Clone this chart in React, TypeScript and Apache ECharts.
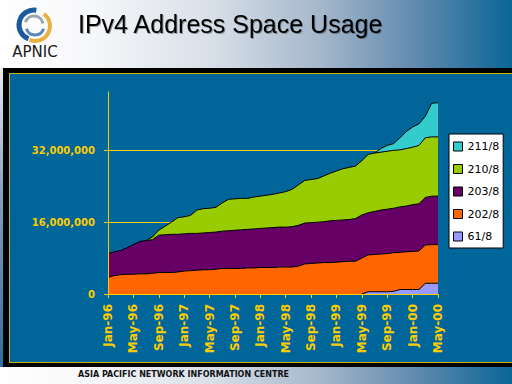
import React, { useEffect, useRef } from 'react';
import * as echarts from 'echarts';

const months = [
  'Jan-96','Feb-96','Mar-96','Apr-96','May-96','Jun-96','Jul-96','Aug-96','Sep-96','Oct-96','Nov-96','Dec-96',
  'Jan-97','Feb-97','Mar-97','Apr-97','May-97','Jun-97','Jul-97','Aug-97','Sep-97','Oct-97','Nov-97','Dec-97',
  'Jan-98','Feb-98','Mar-98','Apr-98','May-98','Jun-98','Jul-98','Aug-98','Sep-98','Oct-98','Nov-98','Dec-98',
  'Jan-99','Feb-99','Mar-99','Apr-99','May-99','Jun-99','Jul-99','Aug-99','Sep-99','Oct-99','Nov-99','Dec-99',
  'Jan-00','Feb-00','Mar-00','Apr-00','May-00'
];

// values in millions of addresses
const s61 = [
  null, null, null, null, null, null, null, null, null, null, null, null,
  null, null, null, null, null, null, null, null, null, null, null, null,
  null, null, null, null, null, null, null, null, null, null, null, null,
  null, null, null, null, 0, 0.5, 0.5, 0.5, 0.5, 0.6, 1.0, 1.0, 1.0, 1.0,
  2.4, 2.4, 2.4
];
const s202 = [
  3.7, 4.1, 4.3, 4.4, 4.4, 4.5, 4.5, 4.6, 4.8, 4.8, 4.8, 4.9,
  5.1, 5.2, 5.3, 5.4, 5.4, 5.5, 5.7, 5.7, 5.7, 5.7, 5.8, 5.8,
  5.9, 5.9, 5.9, 6.0, 6.0, 6.0, 6.2, 6.7, 6.8, 6.9, 7.0, 7.0,
  7.1, 7.2, 7.3, 7.3, 8.0, 8.2, 8.3, 8.4, 8.5, 8.6, 8.3, 8.4,
  8.5, 8.6, 8.5, 8.6, 8.6
];
const s203 = [
  5.3, 5.3, 5.4, 5.9, 6.6, 7.2, 7.4, 7.5, 8.3, 8.4, 8.5, 8.4,
  8.3, 8.3, 8.2, 8.2, 8.3, 8.3, 8.3, 8.4, 8.5, 8.6, 8.6, 8.7,
  8.7, 8.8, 8.9, 8.9, 8.9, 9.0, 9.1, 9.1, 9.1, 9.1, 9.1, 9.3,
  9.3, 9.3, 9.3, 9.5, 9.6, 9.4, 9.6, 9.8, 9.9, 9.9, 10.1, 10.2,
  10.4, 10.5, 10.6, 10.8, 10.8
];
const s210 = [
  null, null, null, null, null, null, 0, 0.6, 1.1, 1.9, 2.7, 3.7,
  3.8, 4.0, 5.2, 5.4, 5.4, 5.5, 6.3, 7.0, 7.0, 7.0, 6.9, 7.1,
  7.2, 7.3, 7.4, 7.6, 7.9, 8.3, 9.0, 9.5, 9.6, 9.7, 10.2, 10.6,
  11.0, 11.4, 11.6, 11.7, 12.1, 13.0, 13.0, 12.9, 12.9, 12.9, 12.7, 12.8,
  12.8, 13.0, 13.3, 13.2, 13.2
];
const s211 = [
  null, null, null, null, null, null, null, null, null, null, null, null,
  null, null, null, null, null, null, null, null, null, null, null, null,
  null, null, null, null, null, null, null, null, null, null, null, null,
  null, null, null, null, null, null, 0, 0.8, 1.3, 1.5, 2.7, 3.8,
  4.5, 4.8, 4.8, 7.5, 7.6
];

const seriesNames = ['61/8', '202/8', '203/8', '210/8', '211/8'];
const seriesColors = ['#9999ff', '#ff6600', '#660066', '#99cc00', '#33cccc'];
const seriesData = [s61, s202, s203, s210, s211];
const legendOrder = ['211/8', '210/8', '203/8', '202/8', '61/8'];

const yTickValues = [0, 16, 32];
const yTickLabels = ['0', '16,000,000', '32,000,000'];
const yMax = 45;

const YELLOW = '#ffcc00';

export default function App() {
  const ref = useRef<HTMLDivElement>(null);
  useEffect(() => {
    const chart = echarts.init(ref.current as HTMLDivElement, null, { renderer: 'svg' });
    const series = seriesNames.map((name, i) => ({
      name,
      type: 'line',
      stack: 'total',
      data: seriesData[i],
      symbol: 'none',
      showSymbol: false,
      itemStyle: { color: seriesColors[i] },
      lineStyle: { color: '#000', width: 1 },
      areaStyle: { color: seriesColors[i], opacity: 1 },
      emphasis: { disabled: true },
      silent: true,
      z: 2,
    }));
    chart.setOption({
      animation: false,
      backgroundColor: 'transparent',
      graphic: [
        {
          type: 'text', left: 78, top: 11, z: 100,
          style: {
            text: 'IPv4 Address Space Usage', fill: '#000',
            font: '25px "Liberation Sans", Arial, sans-serif',
            textShadowColor: 'rgba(0,0,0,0.35)', textShadowOffsetX: 1, textShadowOffsetY: 1, textShadowBlur: 1,
          },
        },
        {
          type: 'text', x: 35, y: 52, z: 100,
          style: {
            text: 'APNIC', fill: '#1a1a1a', align: 'center', verticalAlign: 'middle',
            font: '15px "DejaVu Sans", sans-serif',
          },
        },
        { type: 'arc', z: 100, shape: { cx: 34, cy: 25, r: 15, startAngle: Math.PI * 0.62, endAngle: Math.PI * 1.55, clockwise: true }, style: { stroke: '#1d5a9c', lineWidth: 5, fill: 'none' } },
        { type: 'arc', z: 100, shape: { cx: 35, cy: 26, r: 15, startAngle: -Math.PI * 0.3, endAngle: Math.PI * 0.62, clockwise: true }, style: { stroke: '#e8b040', lineWidth: 4, fill: 'none' } },
        { type: 'arc', z: 100, shape: { cx: 34, cy: 25, r: 9, startAngle: Math.PI * 1.1, endAngle: Math.PI * 1.95, clockwise: true }, style: { stroke: '#9aa4ae', lineWidth: 3, fill: 'none' } },
        { type: 'arc', z: 100, shape: { cx: 35, cy: 26, r: 9, startAngle: Math.PI * 0.1, endAngle: Math.PI * 0.9, clockwise: true }, style: { stroke: '#5a88b8', lineWidth: 3, fill: 'none' } },
        {
          type: 'text', x: 78, y: 374, z: 100,
          style: {
            text: 'ASIA PACIFIC NETWORK INFORMATION CENTRE', fill: '#111',
            verticalAlign: 'middle', font: 'bold 8px "DejaVu Sans", sans-serif',
          },
        },
      ],
      grid: { left: 108, top: 92, width: 330, height: 202, containLabel: false },
      xAxis: {
        type: 'category',
        data: months,
        boundaryGap: false,
        z: 10,
        axisLine: { show: true, lineStyle: { color: YELLOW, width: 1 } },
        axisTick: { show: true, interval: 3, length: 4, lineStyle: { color: YELLOW, width: 1 } },
        axisLabel: {
          interval: 3, rotate: 90, color: YELLOW, fontFamily: 'DejaVu Sans', fontWeight: 'bold',
          fontSize: 12, margin: 10,
        },
        splitLine: { show: false },
      },
      yAxis: [
        {
          type: 'value', min: 0, max: yMax,
          axisLine: { show: false },
          axisTick: { show: false, customValues: yTickValues },
          axisLabel: { show: false, customValues: yTickValues },
          splitLine: { show: true, lineStyle: { color: YELLOW, width: 1 } },
        },
        {
          type: 'value', min: 0, max: yMax, position: 'left', z: 10,
          axisLine: { show: true, lineStyle: { color: YELLOW, width: 1 } },
          axisTick: { show: true, length: 4, customValues: yTickValues, lineStyle: { color: YELLOW, width: 1 } },
          axisLabel: {
            customValues: yTickValues,
            formatter: (v: number) => {
              const idx = yTickValues.indexOf(v);
              return idx >= 0 ? yTickLabels[idx] : '';
            },
            color: YELLOW, fontFamily: 'DejaVu Sans', fontWeight: 'bold', fontSize: 10, margin: 13,
          },
          splitLine: { show: false },
        },
      ],
      legend: {
        orient: 'vertical',
        left: 449,
        top: 134,
        padding: [6, 4, 5, 4],
        itemGap: 9.5,
        itemWidth: 9,
        itemHeight: 9,
        icon: 'rect',
        backgroundColor: '#fff',
        borderColor: '#000',
        borderWidth: 1,
        borderRadius: 0,
        selectedMode: false,
        textStyle: { color: '#000', fontFamily: 'DejaVu Sans', fontSize: 11, lineHeight: 13 },
        data: legendOrder.map((n) => ({
          name: n,
          itemStyle: { color: seriesColors[seriesNames.indexOf(n)], borderColor: '#000', borderWidth: 1 },
        })),
      },
      series,
    });
    return () => chart.dispose();
  }, []);

  return (
    <div
      style={{
        position: 'fixed', left: 0, top: 0, width: 512, height: 384, overflow: 'hidden',
        background: 'linear-gradient(to right, #ffffff 0%, #f6f7f9 18%, #d6dee7 42%, #a3b6ca 63%, #5e88ad 82%, #0a6698 100%)',
      }}
    >
      <div style={{ position: 'absolute', left: 0, top: 68, width: 3, height: 299, background: 'linear-gradient(to bottom, #e8ecf0, #7f9cb8 45%, #2d6f9f)' }} />
      <div style={{ position: 'absolute', left: 3, top: 68, width: 509, height: 299, background: '#000' }} />
      <div
        style={{
          position: 'absolute', left: 9, top: 73, width: 503, height: 290, boxSizing: 'border-box',
          background: '#006699', borderTop: '1px solid #c8b400', borderLeft: '1px solid #c8b400', borderBottom: '1px solid #c8b400',
        }}
      />
      <div ref={ref} style={{ position: 'absolute', left: 0, top: 0, width: 512, height: 384 }} />
    </div>
  );
}
